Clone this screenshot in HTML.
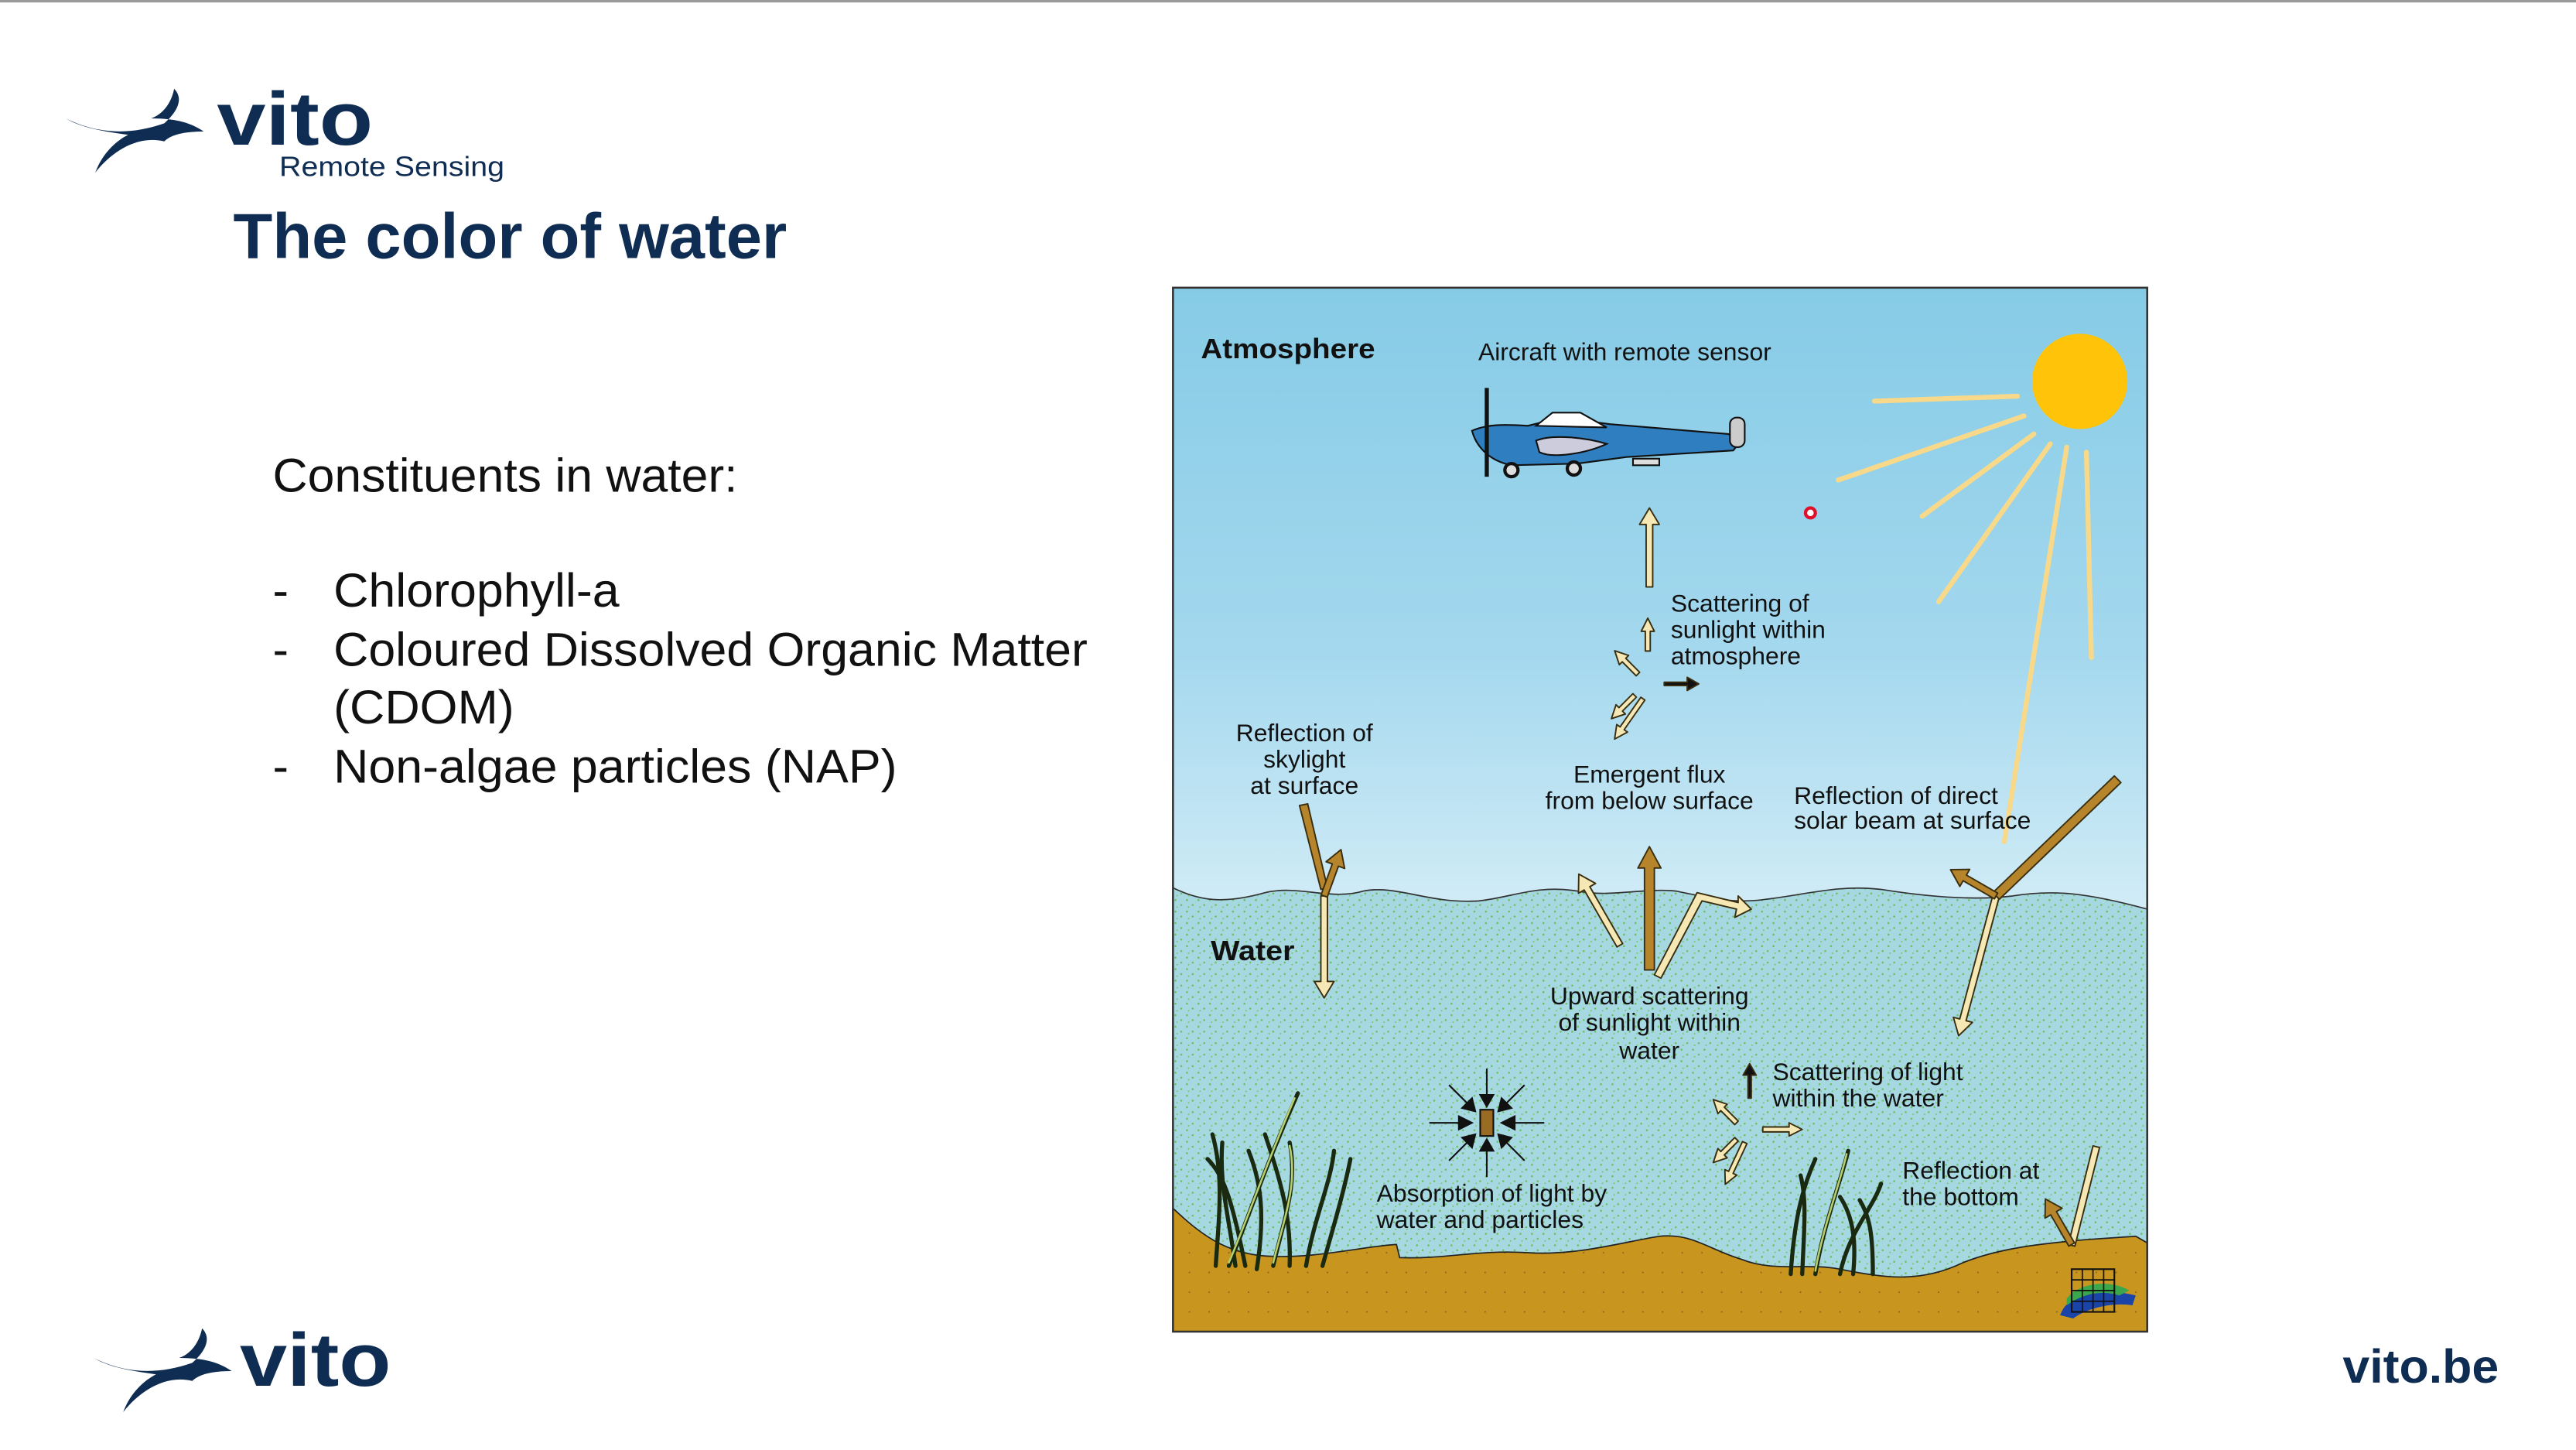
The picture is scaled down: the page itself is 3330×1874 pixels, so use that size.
<!DOCTYPE html>
<html><head><meta charset="utf-8"><style>
html,body{margin:0;padding:0;background:#fff;}
svg{display:block;}
</style></head><body>
<svg width="3330" height="1874" viewBox="0 0 1568 882" preserveAspectRatio="none" xmlns="http://www.w3.org/2000/svg" font-family="Liberation Sans, sans-serif">
<defs>
<linearGradient id="sky" x1="0" y1="0" x2="0" y2="1">
<stop offset="0" stop-color="#86cbe6"/><stop offset="0.35" stop-color="#a4d8ee"/><stop offset="0.62" stop-color="#d6eef7"/><stop offset="0.8" stop-color="#ffffff"/><stop offset="1" stop-color="#ffffff"/>
</linearGradient>
<pattern id="dots" width="7" height="7" patternUnits="userSpaceOnUse">
<rect width="7" height="7" fill="#a6d8e2"/>
<circle cx="1.5" cy="1.5" r="0.6" fill="#6cbf5a"/><circle cx="5" cy="4.5" r="0.6" fill="#6cbf5a"/><circle cx="2.5" cy="5.8" r="0.5" fill="#7cc46a"/>
</pattern>
<pattern id="sand" width="12" height="12" patternUnits="userSpaceOnUse">
<rect width="12" height="12" fill="#c8961f"/><circle cx="4" cy="6" r="0.5" fill="#8a6420"/>
</pattern>
</defs>
<rect width="1568" height="882" fill="#fff"/>
<rect width="1568" height="1.5" fill="#9a9a9a"/>

<!-- top logo -->
<path d="M40,72 C60,82 80,82 100,75 C108,68 112,60 106,54 C104,64 98,70 92,72 C110,72 118,76 124,80 C112,80 104,82 100,86 C84,82 68,92 58,105 C62,94 70,86 78,82 C64,80 50,78 40,72 Z" fill="#0f2d52"/>
<text x="132" y="88" font-size="46" font-weight="bold" fill="#0f2d52" textLength="95" lengthAdjust="spacingAndGlyphs">vito</text>
<text x="170" y="107" font-size="17" fill="#0f2d52" textLength="137" lengthAdjust="spacingAndGlyphs">Remote Sensing</text>
<text x="142" y="157" font-size="39" font-weight="bold" fill="#0f2d52" textLength="337" lengthAdjust="spacingAndGlyphs">The color of water</text>

<g font-size="29" fill="#111">
<text x="166" y="299" textLength="283" lengthAdjust="spacingAndGlyphs">Constituents in water:</text>
<text x="166" y="369">-</text><text x="203" y="369" textLength="174" lengthAdjust="spacingAndGlyphs">Chlorophyll-a</text>
<text x="166" y="405">-</text><text x="203" y="405" textLength="459" lengthAdjust="spacingAndGlyphs">Coloured Dissolved Organic Matter</text>
<text x="203" y="440" textLength="110" lengthAdjust="spacingAndGlyphs">(CDOM)</text>
<text x="166" y="476">-</text><text x="203" y="476" textLength="343" lengthAdjust="spacingAndGlyphs">Non-algae particles (NAP)</text>
</g>

<!-- bottom logo -->
<path d="M57,826 C77,836 97,836 117,829 C125,822 129,814 123,808 C121,818 115,824 109,826 C127,826 135,830 141,834 C129,834 121,836 117,840 C101,836 85,846 75,859 C79,848 87,840 95,836 C81,834 67,832 57,826 Z" fill="#0f2d52"/>
<text x="146" y="843" font-size="46" font-weight="bold" fill="#0f2d52" textLength="92" lengthAdjust="spacingAndGlyphs">vito</text>
<text x="1426" y="841" font-size="29" font-weight="bold" fill="#0f2d52" textLength="95" lengthAdjust="spacingAndGlyphs">vito.be</text>

<!-- diagram -->
<g>
<rect x="714" y="175" width="593" height="635" fill="url(#sky)"/>
<path d="M714,540 C730,548 745,550 770,543 C790,538 810,548 830,542 C850,538 870,550 900,548 C920,546 935,538 960,542 C980,546 1000,540 1020,542 C1040,546 1055,550 1075,547 C1100,544 1120,538 1145,541 C1170,545 1200,548 1225,545 C1250,541 1270,543 1307,553 L1307,810 L714,810 Z" fill="url(#dots)" stroke="#333" stroke-width="0.8"/>
<path d="M714,735 C730,750 745,762 770,764 C800,766 830,758 850,757 L852,765 C880,766 900,760 930,762 C960,764 990,755 1010,752 C1030,750 1040,760 1060,766 C1080,774 1100,768 1120,772 C1150,778 1170,780 1195,768 C1220,758 1250,756 1270,754 L1300,752 L1307,756 L1307,810 L714,810 Z" fill="url(#sand)" stroke="#222" stroke-width="0.8"/>
<rect x="714" y="175" width="593" height="635" fill="none" stroke="#333" stroke-width="1.2"/>

<!-- sun -->
<g stroke="#f8d98a" stroke-width="3" stroke-linecap="round">
<line x1="1141" y1="244" x2="1228" y2="241"/>
<line x1="1119" y1="292" x2="1232" y2="253"/>
<line x1="1170" y1="314" x2="1238" y2="264"/>
<line x1="1180" y1="366" x2="1248" y2="270"/>
<line x1="1220" y1="512" x2="1258" y2="272"/>
<line x1="1273" y1="400" x2="1270" y2="275"/>
</g>
<circle cx="1266" cy="232" r="29" fill="#ffc409"/>
<circle cx="1102" cy="312" r="3" fill="#fff" stroke="#e0102a" stroke-width="2"/>

<!-- plane -->
<g stroke="#111" stroke-width="1">
<path d="M896,262 C905,258 915,258 930,259 L950,254 L980,258 L1052,264 L1060,268 L1055,274 L990,278 L960,282 L920,283 C905,280 898,270 896,262 Z" fill="#2f7fc0"/>
<path d="M935,259 L945,251 L962,251 L978,260 Z" fill="#fff"/>
<path d="M935,268 C945,264 965,266 978,270 C965,276 945,279 937,275 Z" fill="#ccd"/>
<rect x="1053" y="254" width="9" height="18" rx="4" fill="#ccc"/>
<line x1="905" y1="236" x2="905" y2="290" stroke-width="2.5"/>
<circle cx="920" cy="286" r="4" fill="#ddd" stroke-width="2"/>
<circle cx="958" cy="285" r="4" fill="#ddd" stroke-width="2"/>
<rect x="994" y="279" width="16" height="4" fill="#ddd"/>
</g>

<!-- arrows -->
<g stroke="#3a2e10" stroke-width="0.9" stroke-linejoin="round">
<g fill="#f6e8b5">
<path transform="translate(1004,357)" d="M-2,0 L2,0 L2,-38 L6,-38 L0,-48 L-6,-38 L-2,-38 Z"/>
<path transform="translate(1003,396)" d="M-1.5,0 L1.5,0 L1.5,-12 L4,-12 L0,-20 L-4,-12 L-1.5,-12 Z"/>
<path transform="translate(997,410) rotate(-45)" d="M-1.5,0 L1.5,0 L1.5,-12 L4,-12 L0,-20 L-4,-12 L-1.5,-12 Z"/>
<path transform="translate(1000,425) rotate(-145)" d="M-1.5,0 L1.5,0 L1.5,-22 L4,-22 L0,-30 L-4,-22 L-1.5,-22 Z"/>
<path transform="translate(995,423) rotate(-135)" d="M-1.5,0 L1.5,0 L1.5,-12 L4,-12 L0,-20 L-4,-12 L-1.5,-12 Z"/>
<path transform="translate(806,545)" d="M-2,0 L2,0 L2,52 L6,52 L0,62 L-6,52 L-2,52 Z"/>
<path transform="translate(986,575) rotate(-30)" d="M-2,0 L2,0 L2,-40 L6,-40 L0,-50 L-6,-40 L-2,-40 Z"/>
<path d="M1007,593 L1033,543 L1058,549 L1058,545 L1066,553 L1056,558 L1057,553 L1036,548 L1011,595 Z"/>
<path transform="translate(1215,545) rotate(195)" d="M-2,0 L2,0 L2,-78 L6,-78 L0,-88 L-6,-78 L-2,-78 Z"/>
<path transform="translate(1057,683) rotate(-45)" d="M-1.5,0 L1.5,0 L1.5,-12 L4,-12 L0,-20 L-4,-12 L-1.5,-12 Z"/>
<path transform="translate(1073,687) rotate(90)" d="M-1.5,0 L1.5,0 L1.5,-16 L4,-16 L0,-24 L-4,-16 L-1.5,-16 Z"/>
<path transform="translate(1062,695) rotate(-155)" d="M-1.5,0 L1.5,0 L1.5,-20 L4,-20 L0,-28 L-4,-20 L-1.5,-20 Z"/>
<path transform="translate(1057,693) rotate(-135)" d="M-1.5,0 L1.5,0 L1.5,-12 L4,-12 L0,-20 L-4,-12 L-1.5,-12 Z"/>
<path d="M1274,697 L1278,698 L1263,758 L1259,757 Z"/>
</g>
<g fill="#b5842b">
<path d="M791,490 L796,489 L808,540 L804,541 Z"/>
<path transform="translate(806,545) rotate(20)" d="M-2,0 L2,0 L2,-20 L6,-20 L0,-30 L-6,-20 L-2,-20 Z"/>
<path transform="translate(1004,590)" d="M-3,0 L3,0 L3,-62 L7,-62 L0,-75 L-7,-62 L-3,-62 Z"/>
<path d="M1287,472 L1291,476 L1217,547 L1213,543 Z"/>
<path transform="translate(1215,545) rotate(-60)" d="M-2,0 L2,0 L2,-22 L6,-22 L0,-32 L-6,-22 L-2,-22 Z"/>
<path transform="translate(1261,757) rotate(-30)" d="M-2,0 L2,0 L2,-22 L6,-22 L0,-32 L-6,-22 L-2,-22 Z"/>
</g>
<g fill="#111">
<path transform="translate(1013,416) rotate(90)" d="M-1,0 L1,0 L1,-14 L4,-14 L0,-21 L-4,-14 L-1,-14 Z"/>
<path transform="translate(1065,668)" d="M-1,0 L1,0 L1,-14 L4,-14 L0,-21 L-4,-14 L-1,-14 Z"/>
</g>
</g>

<!-- absorption -->
<g stroke="#111" stroke-width="1" fill="#111">
<rect x="901" y="675" width="8" height="16" fill="#9a6b22"/>
<line x1="905" y1="650" x2="905" y2="668"/><path d="M901,666 L909,666 L905,673 Z"/>
<line x1="905" y1="716" x2="905" y2="698"/><path d="M901,700 L909,700 L905,693 Z"/>
<line x1="870" y1="683" x2="890" y2="683"/><path d="M888,679 L888,687 L896,683 Z"/>
<line x1="940" y1="683" x2="920" y2="683"/><path d="M922,679 L922,687 L914,683 Z"/>
<line x1="882" y1="660" x2="894" y2="672"/><path d="M890,674 L896,668 L898,676 Z"/>
<line x1="928" y1="660" x2="916" y2="672"/><path d="M920,674 L914,668 L912,676 Z"/>
<line x1="882" y1="706" x2="894" y2="694"/><path d="M890,692 L896,698 L898,690 Z"/>
<line x1="928" y1="706" x2="916" y2="694"/><path d="M920,692 L914,698 L912,690 Z"/>
</g>

<!-- grass -->
<g fill="none" stroke-linecap="round">
<g stroke="#1a2a10" stroke-width="2.5">
<path d="M740,770 C742,740 745,715 738,690"/><path d="M748,770 C760,740 770,710 790,665"/><path d="M765,772 C770,740 768,720 760,700"/>
<path d="M775,770 C782,740 790,720 785,695"/><path d="M795,770 C800,740 810,720 812,700"/><path d="M758,770 C750,730 745,715 735,705"/>
<path d="M752,770 C748,740 742,720 744,695"/><path d="M785,770 C786,740 780,720 770,690"/><path d="M805,770 C812,745 818,725 822,705"/>
<path d="M1090,775 C1092,745 1096,725 1105,705"/><path d="M1105,775 C1110,745 1120,720 1125,700"/><path d="M1120,775 C1125,750 1140,735 1145,720"/><path d="M1140,775 C1140,750 1138,740 1132,730"/>
<path d="M1097,775 C1098,750 1100,730 1096,715"/><path d="M1128,775 C1130,755 1128,740 1120,728"/>
</g>
<g stroke="#b8d070" stroke-width="1.2">
<path d="M748,768 C760,740 770,710 788,668"/><path d="M775,768 C782,740 790,720 785,697"/><path d="M1105,773 C1110,745 1120,720 1124,702"/>
</g>
</g>

<!-- bottom-right icon -->
<g>
<path d="M1254,800 C1258,788 1275,782 1300,788 L1298,794 C1285,792 1270,796 1262,802 Z" fill="#1b44a8"/>
<path d="M1258,790 C1265,780 1285,778 1296,785 L1290,788 C1278,784 1266,788 1258,794 Z" fill="#3aa84a"/>
<rect x="1261" y="772" width="26" height="26" fill="none" stroke="#111" stroke-width="1"/>
<path d="M1267.5,772 V798 M1274,772 V798 M1280.5,772 V798 M1261,778.5 H1287 M1261,785 H1287 M1261,791.5 H1287" stroke="#111" stroke-width="0.8"/>
</g>

<!-- labels -->
<text x="731" y="218" font-size="17" font-weight="bold" fill="#111" textLength="106" lengthAdjust="spacingAndGlyphs">Atmosphere</text>
<text x="737" y="584" font-size="17" font-weight="bold" fill="#111" textLength="51" lengthAdjust="spacingAndGlyphs">Water</text>
<g font-size="15" fill="#111" text-anchor="middle">
<text x="989" y="219">Aircraft with remote sensor</text>
<text x="794" y="451">Reflection of</text><text x="794" y="467">skylight</text><text x="794" y="483">at surface</text>
<text x="1004" y="476">Emergent flux</text><text x="1004" y="492">from below surface</text>
<text x="1004" y="611">Upward scattering</text><text x="1004" y="627">of sunlight within</text><text x="1004" y="644">water</text>
</g>
<g font-size="15" fill="#111">
<text x="1017" y="372">Scattering of</text><text x="1017" y="388">sunlight within</text><text x="1017" y="404">atmosphere</text>
<text x="1092" y="489">Reflection of direct</text><text x="1092" y="504">solar beam at surface</text>
<text x="1079" y="657">Scattering of light</text><text x="1079" y="673">within the water</text>
<text x="838" y="731">Absorption of light by</text><text x="838" y="747">water and particles</text>
<text x="1158" y="717">Reflection at</text><text x="1158" y="733">the bottom</text>
</g>
</g>
</svg>
</body></html>
